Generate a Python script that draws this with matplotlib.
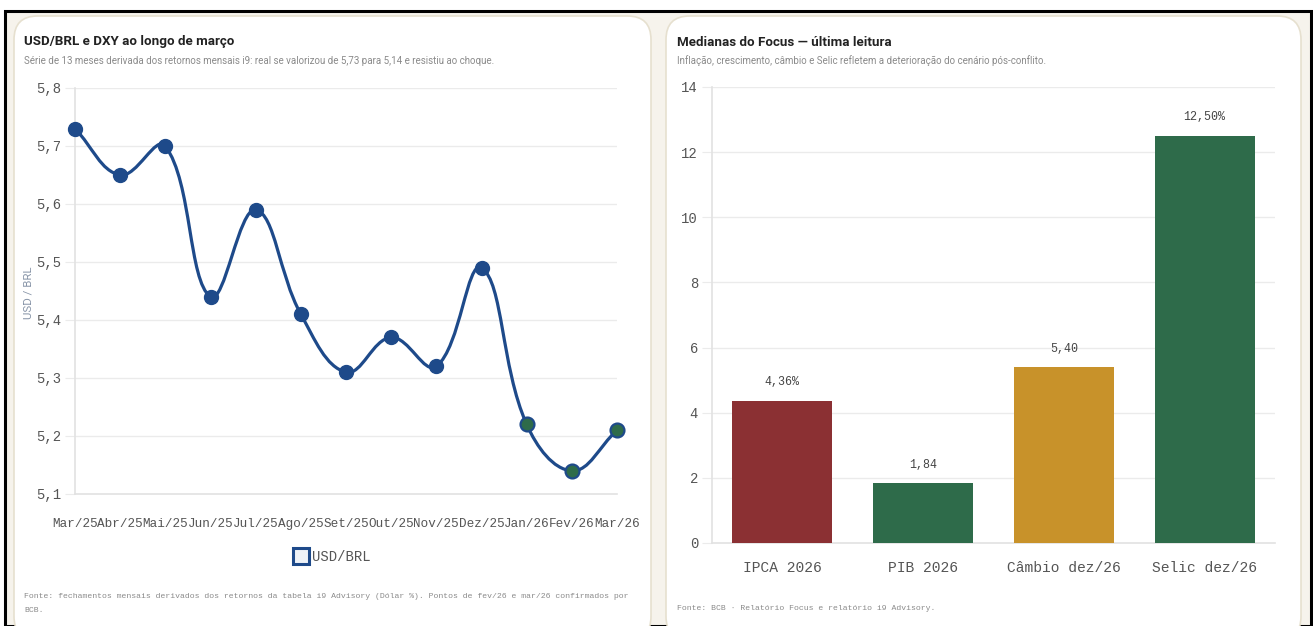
import numpy as np
import matplotlib
matplotlib.use("Agg")
import matplotlib.pyplot as plt
from matplotlib.patches import FancyBboxPatch, Rectangle, PathPatch
from matplotlib.path import Path
from matplotlib.lines import Line2D

# ---------------- data ----------------
months = ["Mar/25", "Abr/25", "Mai/25", "Jun/25", "Jul/25", "Ago/25", "Set/25",
          "Out/25", "Nov/25", "Dez/25", "Jan/26", "Fev/26", "Mar/26"]
usdbrl = [5.73, 5.65, 5.70, 5.44, 5.59, 5.41, 5.31, 5.37, 5.32, 5.49, 5.22, 5.14, 5.21]
confirmed_from = 10  # index from which points are drawn green-filled

focus_cats = ["IPCA 2026", "PIB 2026", "Câmbio dez/26", "Selic dez/26"]
focus_vals = [4.36, 1.84, 5.40, 12.50]
focus_labels = ["4,36%", "1,84", "5,40", "12,50%"]
focus_colors = ["#8B3033", "#2E6B4A", "#C8922A", "#2E6B4A"]

left_yticks = [5.1, 5.2, 5.3, 5.4, 5.5, 5.6, 5.7, 5.8]
right_yticks = [0, 2, 4, 6, 8, 10, 12, 14]

# ---------------- figure ----------------
W, H = 1313, 626
fig = plt.figure(figsize=(W / 100, H / 100), dpi=100, facecolor="white")

def fx(px):
    return px / W

def fy(py):
    return 1 - py / H

MONO = ["Liberation Mono", "DejaVu Sans Mono"]
NARROW = ["Roboto", "DejaVu Sans"]
BLUE = "#1E4A8A"
GREEN = "#2E6B4A"
GRID = "#EBEBEB"
TICKC = "#555555"

# outer frame
fig.patches.append(Rectangle((fx(5), 0), fx(1306), fy(11), transform=fig.transFigure,
                             facecolor="#F6F3EC", edgecolor="black", linewidth=2.2, zorder=-3))
# cards
for x0, x1 in [(14, 651), (666, 1301)]:
    fig.patches.append(FancyBboxPatch((fx(x0), fy(640)), fx(x1 - x0), fy(16) - fy(640),
                                      boxstyle="round,pad=0,rounding_size=0.018",
                                      transform=fig.transFigure, facecolor="white",
                                      edgecolor="#E6E0CF", linewidth=1.2, zorder=-2,
                                      mutation_aspect=W / H))

# titles
fig.text(fx(24), fy(42), "USD/BRL e DXY ao longo de março", family=NARROW, fontsize=9.6,
         fontweight="bold", color="#222222", va="center", ha="left")
fig.text(fx(24), fy(61), "Série de 13 meses derivada dos retornos mensais i9: real se valorizou de 5,73 para 5,14 e resistiu ao choque.",
         family=NARROW, fontsize=7.0, color="#8A8A8A", va="center", ha="left")
fig.text(fx(677), fy(42), "Medianas do Focus — última leitura", family=NARROW, fontsize=9.6,
         fontweight="bold", color="#222222", va="center", ha="left")
fig.text(fx(677), fy(61), "Inflação, crescimento, câmbio e Selic refletem a deterioração do cenário pós-conflito.",
         family=NARROW, fontsize=7.0, color="#8A8A8A", va="center", ha="left")

# footers
fig.text(fx(24), fy(597), "Fonte: fechamentos mensais derivados dos retornos da tabela i9 Advisory (Dólar %). Pontos de fev/26 e mar/26 confirmados por",
         family=MONO, fontsize=5.9, color="#8A8A8A", va="center", ha="left")
fig.text(fx(24), fy(611), "BCB.", family=MONO, fontsize=5.9, color="#8A8A8A", va="center", ha="left")
fig.text(fx(677), fy(609), "Fonte: BCB · Relatório Focus e relatório i9 Advisory.",
         family=MONO, fontsize=5.9, color="#8A8A8A", va="center", ha="left")

# ---------------- left chart ----------------
ax1 = fig.add_axes([fx(75), fy(494), fx(617) - fx(75), fy(88) - fy(494)])
ax1.set_facecolor("white")
x = np.arange(len(usdbrl))
ax1.set_xlim(0, len(usdbrl) - 1)
ax1.set_ylim(5.1, 5.8)

# Chart.js-like bezier smoothing (tension 0.4), distances in pixel space
sx = (617 - 75) / (len(usdbrl) - 1)
sy = (494 - 88) / 0.7
pts = np.column_stack([x * sx, np.array(usdbrl) * sy])
t = 0.4
cps_prev, cps_next = [], []
n = len(pts)
for i in range(n):
    p = pts[i]
    prv = pts[i - 1] if i > 0 else p
    nxt = pts[i + 1] if i < n - 1 else p
    d01 = np.hypot(*(p - prv))
    d12 = np.hypot(*(nxt - p))
    s = d01 + d12
    fa = t * d01 / s if s else 0
    fb = t * d12 / s if s else 0
    cps_prev.append(p - fa * (nxt - prv))
    cps_next.append(p + fb * (nxt - prv))
verts = [pts[0]]
codes = [Path.MOVETO]
for i in range(n - 1):
    verts += [cps_next[i], cps_prev[i + 1], pts[i + 1]]
    codes += [Path.CURVE4] * 3
verts = np.array(verts) / np.array([sx, sy])
ax1.add_patch(PathPatch(Path(verts, codes), facecolor="none", edgecolor=BLUE,
                        linewidth=2.3, zorder=3, capstyle="round"))
ax1.plot(x[:confirmed_from], usdbrl[:confirmed_from], linestyle="none", marker="o",
         markersize=10, markerfacecolor=BLUE, markeredgecolor=BLUE, zorder=4, clip_on=False)
ax1.plot(x[confirmed_from:], usdbrl[confirmed_from:], linestyle="none", marker="o",
         markersize=10, markerfacecolor=GREEN, markeredgecolor=BLUE, markeredgewidth=1.6,
         zorder=4, clip_on=False)

ax1.set_yticks(left_yticks)
ax1.set_yticklabels([f"{v:.1f}".replace(".", ",") for v in left_yticks])
ax1.set_xticks(x)
ax1.set_xticklabels(months)
ax1.grid(axis="y", color=GRID, linewidth=1)
ax1.set_axisbelow(True)
for sp in ["top", "right"]:
    ax1.spines[sp].set_visible(False)
for sp in ["left", "bottom"]:
    ax1.spines[sp].set_color("#E2E2E2")
    ax1.spines[sp].set_linewidth(1.2)
ax1.tick_params(axis="y", length=7, color=GRID, labelsize=10, labelcolor=TICKC, pad=3)
ax1.tick_params(axis="x", length=0, labelsize=9.1, labelcolor=TICKC, pad=17)
for lab in ax1.get_yticklabels() + ax1.get_xticklabels():
    lab.set_family(MONO)
ax1.set_ylabel("USD / BRL", fontsize=8.2, color="#8895A8", family=["Roboto", "DejaVu Sans"],
               labelpad=4)
ax1.yaxis.set_label_coords(fx(33 - 75) / (fx(617) - fx(75)), (494 - 293) / (494 - 88))

leg_handle = Line2D([], [], linestyle="none", marker="s", markersize=11,
                    markerfacecolor="#EEF2F7", markeredgecolor=BLUE, markeredgewidth=2.2)
fig.legend([leg_handle], ["USD/BRL"], loc="center", bbox_to_anchor=(fx(332), fy(557)),
           frameon=False, prop={"family": MONO, "size": 10}, labelcolor=TICKC,
           handletextpad=0.3, handlelength=1.0)

# ---------------- right chart ----------------
ax2 = fig.add_axes([fx(712), fy(543), fx(1275) - fx(712), fy(87) - fy(543)])
ax2.set_facecolor("white")
xb = np.arange(len(focus_vals))
bars = ax2.bar(xb, focus_vals, width=0.71, color=focus_colors, zorder=3)
ax2.set_xlim(-0.5, len(focus_vals) - 0.5)
ax2.set_ylim(0, 14)
for b, lab in zip(bars, focus_labels):
    ax2.annotate(lab, (b.get_x() + b.get_width() / 2, b.get_height()), xytext=(0, 9),
                 textcoords="offset points", ha="center", va="bottom", family=MONO,
                 fontsize=8.4, color="#444444")
ax2.set_yticks(right_yticks)
ax2.set_yticklabels([str(v) for v in right_yticks])
ax2.set_xticks(xb)
ax2.set_xticklabels(focus_cats)
ax2.grid(axis="y", color=GRID, linewidth=1)
ax2.set_axisbelow(True)
for sp in ["top", "right"]:
    ax2.spines[sp].set_visible(False)
for sp in ["left", "bottom"]:
    ax2.spines[sp].set_color("#E2E2E2")
    ax2.spines[sp].set_linewidth(1.2)
ax2.tick_params(axis="y", length=7, color=GRID, labelsize=10, labelcolor=TICKC, pad=3)
ax2.tick_params(axis="x", length=0, labelsize=10.5, labelcolor=TICKC, pad=13)
for lab in ax2.get_yticklabels() + ax2.get_xticklabels():
    lab.set_family(MONO)

fig.savefig("out.png", dpi=100, facecolor="white")
